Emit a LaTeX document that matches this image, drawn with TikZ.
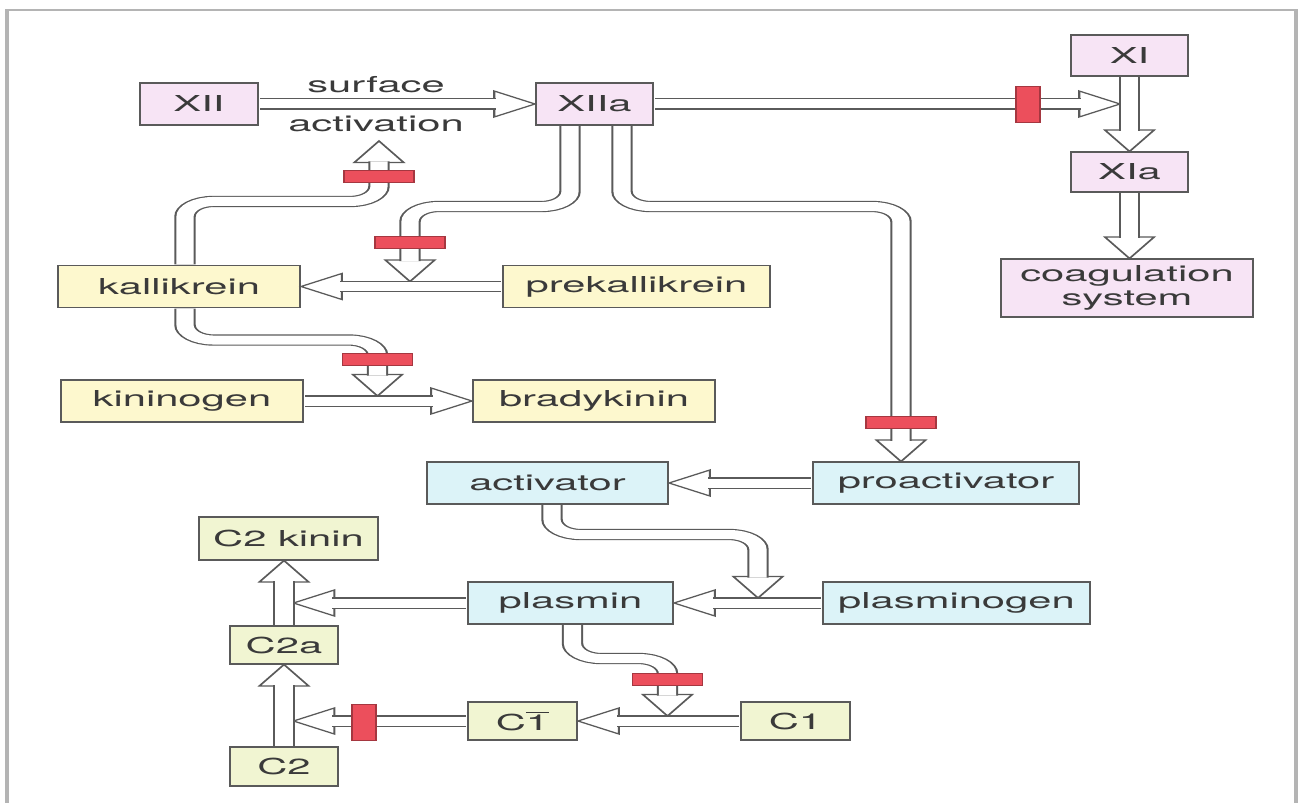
\documentclass[tikz,border=0pt]{standalone}
\usepackage{fontspec}
\setmainfont{TeX Gyre Heros}
\usetikzlibrary{calc}

\definecolor{pinkbox}{HTML}{F7E4F5}
\definecolor{yelbox}{HTML}{FDF8CE}
\definecolor{bluebox}{HTML}{DCF3F8}
\definecolor{grnbox}{HTML}{F1F5D2}
\definecolor{stopred}{HTML}{EC4F5C}
\definecolor{linegray}{HTML}{5A5A5A}
\definecolor{framegray}{HTML}{B4B4B4}
\definecolor{textgray}{HTML}{3A3A3A}

% unit lengths (one pixel of the drawing, x before stretching)
\newlength\ux \setlength\ux{0.0105263cm}
\newlength\uy \setlength\uy{0.02cm}

\tikzset{
	box/.style={draw=linegray, line width=0.6pt, inner sep=0pt, text=textgray,
		minimum height=42*\uy},
	pinkb/.style={box, fill=pinkbox},
	yelb/.style={box, fill=yelbox},
	blueb/.style={box, fill=bluebox},
	grnb/.style={box, fill=grnbox},
	pipe/.style={draw=linegray, line width=0.65pt, double=white,
		double distance=0.18cm, shorten <=0.3pt},
	bend pipe/.style={pipe, rounded corners=0.3cm},
	tohead/.style={shorten >=0.41cm},
	stop/.style={draw=stopred!70!black, line width=0.4pt, fill=stopred,
		inner sep=0pt, minimum width=0.74cm, minimum height=0.24cm},
	stopv/.style={stop, minimum width=0.25cm, minimum height=0.72cm},
	pics/head/.style={code={
			\draw[draw=linegray, line width=0.65pt, fill=white, line join=miter]
			(0,0) -- (-0.43cm,0.26cm) -- (-0.43cm,-0.26cm) -- cycle;}}
}

\begin{document}
\begin{tikzpicture}[x=0.0105263cm, y=-0.02cm,
	font=\fontsize{12.5}{13.6}\selectfont]
	\useasboundingbox (0,0) rectangle (2468.1,803);
	
	\begin{scope}[transform canvas={xscale=1.9}]
		% frame
		\draw[framegray, line width=1pt] (7,803) -- (7,10) -- (1296,10) -- (1296,803);
		
		% ===== boxes =====
		\node[pinkb, minimum width=118*\ux] (XII) at (199,104) {XII};
		\node[pinkb, minimum width=117*\ux] (XIIa) at (594.5,104) {XIIa};
		\node[pinkb, minimum width=117*\ux, minimum height=41*\uy] (XI) at (1129.5,55.5) {XI};
		\node[pinkb, minimum width=117*\ux, minimum height=40*\uy] (XIa) at (1129.5,172) {XIa};
		\node[pinkb, minimum width=252*\ux, minimum height=58*\uy, align=center] (coag)
		at (1127,288) {coagulation\\system};
		
		\node[yelb, minimum width=242*\ux] (kall) at (179,286.5) {kallikrein};
		\node[yelb, minimum width=267*\ux] (prek) at (636.5,286.5) {prekallikrein};
		\node[yelb, minimum width=242*\ux] (kinin) at (182,401) {kininogen};
		\node[yelb, minimum width=242*\ux] (brady) at (594,401) {bradykinin};
		
		\node[blueb, minimum width=241*\ux] (activ) at (547.5,483) {activator};
		\node[blueb, minimum width=266*\ux] (proact) at (946,483) {proactivator};
		\node[blueb, minimum width=205*\ux] (plasmin) at (570.5,603) {plasmin};
		\node[blueb, minimum width=267*\ux] (plgn) at (956.5,603) {plasminogen};
		
		\node[grnb, minimum width=179*\ux, minimum height=43*\uy] (C2k) at (288.5,538.5) {C2 kinin};
		\node[grnb, minimum width=108*\ux, minimum height=38*\uy] (C2a) at (284,645) {C2a};
		\node[grnb, minimum width=108*\ux, minimum height=39*\uy] (C2) at (284,766.5) {C2};
		\node[grnb, minimum width=109*\ux, minimum height=38*\uy] (C1b) at (522.5,721) {C$\overline{\mbox{1}}$};
		\node[grnb, minimum width=109*\ux, minimum height=38*\uy] (C1) at (795.5,721) {C1};
		
		\node[text=textgray] (surf) at (376,85) {surface};
		\node[text=textgray] (actlbl) at (376,124) {activation};
		
		% ===== tips on other pipes =====
		\coordinate (tipXI) at ($(XI.south |- XIIa.east)+(-9.5,0)$);
		\coordinate (tipKal) at (410,281.5);
		\coordinate (tipAct) at (379,141);
		\coordinate (tipBrad) at (377.5,396);
		\coordinate (tipPro) at ($(proact.north)+(-45,0)$);
		\coordinate (tipPlas) at (758,598);
		\coordinate (tipC2k) at ($(C2a.north |- plasmin.west)+(9.5,0)$);
		\coordinate (tipC1b) at (667.5,716);
		\coordinate (tipC2a) at ($(C2.north |- C1b.west)+(9.5,0)$);
		
		% ===== arrow heads =====
		\pic at (XIIa.west) {head};
		\pic at (tipXI) {head};
		\pic[rotate=-90] at (XIa.north) {head};
		\pic[rotate=-90] at (XIa.south |- coag.north) {head};
		\pic[rotate=-90] at (tipKal) {head};
		\pic[rotate=-90] at (tipPro) {head};
		\pic[rotate=90] at (tipAct) {head};
		\pic[rotate=180] at (kall.east) {head};
		\pic[rotate=-90] at (tipBrad) {head};
		\pic at (brady.west) {head};
		\pic[rotate=180] at (activ.east) {head};
		\pic[rotate=-90] at (tipPlas) {head};
		\pic[rotate=180] at (plasmin.east) {head};
		\pic[rotate=180] at (tipC2k) {head};
		\pic[rotate=90] at (C2a.north |- C2k.south) {head};
		\pic[rotate=-90] at (tipC1b) {head};
		\pic[rotate=180] at (C1b.east) {head};
		\pic[rotate=180] at (tipC2a) {head};
		\pic[rotate=90] at (C2.north |- C2a.south) {head};
		
		% ===== pipes =====
		\draw[pipe, tohead] (XII.east) -- (XIIa.west);
		\draw[pipe, tohead] (XIIa.east) -- (tipXI);
		\draw[pipe, tohead] (XI.south) -- (XIa.north);
		\draw[pipe, tohead] (XIa.south) -- (XIa.south |- coag.north);
		
		\draw[bend pipe, tohead] ($(XIIa.south)+(-24.5,0)$) -- ++(0,81) -| (tipKal);
		\draw[bend pipe, tohead] ($(XIIa.south)+(27.5,0)$) -- ++(0,81) -| (tipPro);
		\draw[bend pipe, tohead] ($(kall.north)+(6,0)$) -- ++(0,-63.5) -| (tipAct);
		\draw[pipe, tohead] (prek.west) -- (kall.east);
		\draw[bend pipe, tohead] ($(kall.south)+(6,0)$) -- ++(0,32) -| (tipBrad);
		\draw[pipe, tohead] (kinin.east) -- (brady.west);
		
		\draw[pipe, tohead] (proact.west) -- (activ.east);
		\draw[bend pipe, tohead] ($(activ.south)+(4.5,0)$) -- ++(0,30) -| (tipPlas);
		\draw[pipe, tohead] (plgn.west) -- (plasmin.east);
		\draw[pipe, tohead] (plasmin.west) -- (tipC2k);
		\draw[pipe, tohead] (C2a.north) -- (C2a.north |- C2k.south);
		\draw[bend pipe, tohead] ($(plasmin.south)+(2,0)$) -- ++(0,34) -| (tipC1b);
		\draw[pipe, tohead] (C1.west) -- (C1b.east);
		\draw[pipe, tohead] (C1b.west) -- (tipC2a);
		\draw[pipe, tohead] (C2.north) -- (C2.north |- C2a.south);
		
		% ===== inhibitor blocks =====
		\node[stopv] (s1) at (1028,104) {};
		\node[stop] (s2) at (410,242) {};
		\node[stop] (s3) at (901,422) {};
		\node[stop] (s4) at (379,176.5) {};
		\node[stop] (s5) at (377.5,359.5) {};
		\node[stop] (s6) at (667.5,679) {};
		\node[stopv] (s7) at (364,722) {};
	\end{scope}
\end{tikzpicture}
\end{document}
